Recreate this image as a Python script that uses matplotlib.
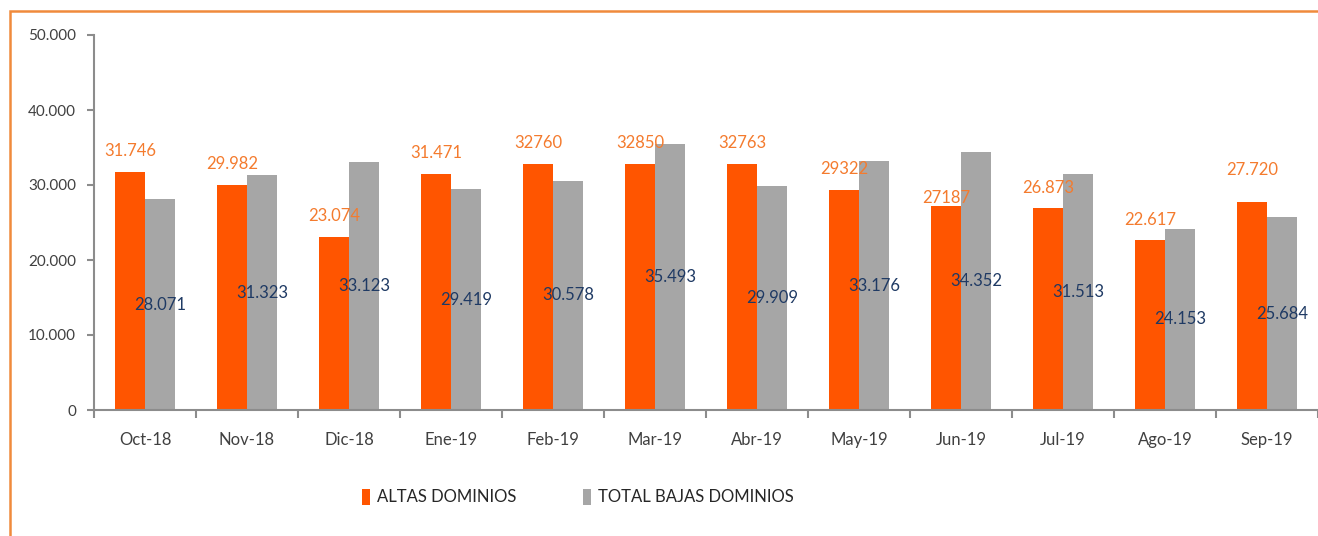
import matplotlib.pyplot as plt
import numpy as np
from matplotlib.patches import Rectangle

plt.rcParams["font.family"] = ["Lato", "DejaVu Sans"]

meses = ["Oct-18", "Nov-18", "Dic-18", "Ene-19", "Feb-19", "Mar-19",
         "Abr-19", "May-19", "Jun-19", "Jul-19", "Ago-19", "Sep-19"]
altas = [31746, 29982, 23074, 31471, 32760, 32850,
         32763, 29322, 27187, 26873, 22617, 27720]
bajas = [28071, 31323, 33123, 29419, 30578, 35493,
         29909, 33176, 34352, 31513, 24153, 25684]
altas_txt = ["31.746", "29.982", "23.074", "31.471", "32760", "32850",
             "32763", "29322", "27187", "26.873", "22.617", "27.720"]
bajas_txt = ["28.071", "31.323", "33.123", "29.419", "30.578", "35.493",
             "29.909", "33.176", "34.352", "31.513", "24.153", "25.684"]

# label nudges (points above bar top), as dragged in the original
altas_dy = [15, 15, 15, 15, 15, 15, 15, 15, 6, 15, 15, 23]

NARANJA = "#FF5500"
NARANJA_TXT = "#F47B2E"
GRIS = "#A6A6A6"
AZUL = "#1F3A64"
EJE = "#8C8C8C"

fig = plt.figure(figsize=(13.18, 5.36), dpi=100)
ax = fig.add_axes([94 / 1318, 1 - 410 / 536, 1 - 94 / 1318, 375 / 536])

x = np.arange(len(meses))
w = 0.29
ax.bar(x - w / 2, altas, w, color=NARANJA, label="ALTAS DOMINIOS")
ax.bar(x + w / 2, bajas, w, color=GRIS, label="TOTAL BAJAS DOMINIOS")

for i in range(len(meses)):
    ax.annotate(altas_txt[i], (x[i] - w / 2, altas[i]), xytext=(0, altas_dy[i]),
                textcoords="offset points", ha="center", va="center",
                color=NARANJA_TXT, fontsize=12)
    ax.text(x[i] + w / 2, bajas[i] / 2, bajas_txt[i], ha="center", va="center",
            color=AZUL, fontsize=12)

ax.set_xlim(-0.5, -0.5 + (1318 - 94) / 102.8)
ax.set_ylim(0, 50000)
ax.set_yticks(range(0, 50001, 10000))
ax.set_yticklabels(["0", "10.000", "20.000", "30.000", "40.000", "50.000"])
ax.set_xticks(x)
ax.set_xticklabels(meses)
ax.set_xticks(np.arange(-0.5, len(meses), 1), minor=True)
ax.tick_params(axis="x", which="major", length=0, pad=16, labelsize=12, labelcolor="#404040")
ax.tick_params(axis="x", which="minor", length=6, width=1.5, color=EJE)
ax.tick_params(axis="y", length=5, width=1.5, color=EJE, pad=8, labelsize=11,
               labelcolor="#404040")

for s in ["top", "right"]:
    ax.spines[s].set_visible(False)
for s in ["left", "bottom"]:
    ax.spines[s].set_color(EJE)
    ax.spines[s].set_linewidth(1.5)

leg = fig.legend(loc="center", bbox_to_anchor=(578 / 1318, 1 - 497 / 536), ncol=2,
                 frameon=False, fontsize=12, handlelength=0.5, handleheight=1.1,
                 handletextpad=0.4, columnspacing=4.0)
for t in leg.get_texts():
    t.set_color("#262626")

# orange chart border (cut off on the right and bottom)
fig.patches.append(Rectangle((10 / 1318, -0.05), 1.2, (1 - 11 / 536) + 0.05,
                             transform=fig.transFigure, fill=False,
                             edgecolor="#F08A3C", linewidth=1.8))

fig.savefig("out.png", dpi=100)
